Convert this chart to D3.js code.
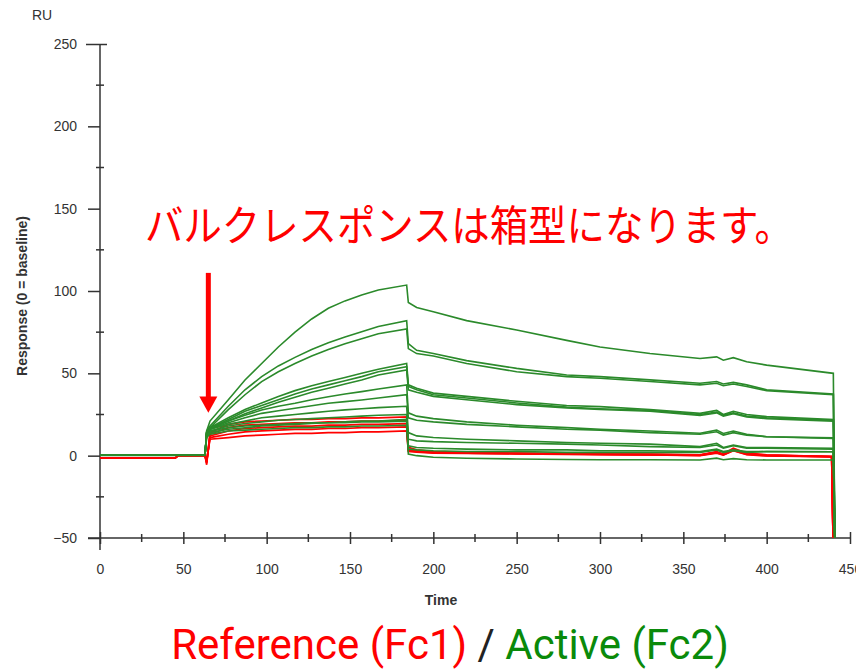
<!DOCTYPE html>
<html>
<head>
<meta charset="utf-8">
<script src="https://cdnjs.cloudflare.com/ajax/libs/d3/7.8.5/d3.min.js"></script>
<style>
body { margin: 0; background: #fff; }
</style>
</head>
<body>
<script>
// time points (s) for the active channel (Fc2) and reference channel (Fc1)
var timeAct = [0, 63, 64, 66, 77, 87, 97, 107, 117, 127, 137, 147, 157, 167, 184, 185, 190, 200, 220, 250, 280, 300, 330, 360, 370, 374, 380, 388, 400, 440, 441];
var timeRef = [0, 45, 47, 63, 64, 66, 77, 87, 97, 107, 117, 127, 137, 147, 157, 167, 184, 185, 190, 200, 220, 250, 280, 300, 330, 360, 370, 374, 380, 388, 400, 439, 440];

// Active (Fc2) sensorgrams, RU
var active1  = [0.5, 0.5, 15, 21, 34, 46, 56, 66, 75, 83, 89.5, 94, 97.6, 100.6, 103.6, 93, 90, 87.4, 82, 76.3, 70, 66, 62, 59, 60, 58, 59.5, 57, 55, 50, -60];
var active2  = [0.5, 0.5, 15, 18, 30, 40, 48, 54.5, 59.7, 64.5, 68.6, 72, 75.3, 78.5, 82, 68, 64, 62, 57.7, 53, 49, 48, 46, 44, 45, 43.5, 44.5, 43, 40, 37.5, -60];
var active3  = [0.5, 0.5, 14, 17, 28, 37, 45, 51, 56, 60.5, 64.5, 68, 71, 74, 77, 65, 62, 60.5, 56, 51, 48, 47, 45, 43, 44, 42.5, 43.5, 42, 39.5, 37, -60];
var active4  = [0.3, 0.3, 14, 17, 23, 28, 32, 36, 39.5, 42.5, 45, 47.5, 50, 52.5, 56, 43, 41, 38, 36, 33, 30.5, 29.8, 28, 25.7, 27.5, 25, 27, 25, 23.7, 22, -60];
var active5  = [0.3, 0.3, 14, 16.5, 22, 27, 30.5, 34, 37.5, 40.5, 43, 45.5, 48, 51, 54, 42, 40, 37, 35, 32, 29.5, 28.5, 27.5, 25, 26.5, 24.5, 26, 24, 23, 21.5, -60];
var active6  = [0.2, 0.2, 13.5, 16, 21, 25.5, 29, 32.5, 35.5, 38.5, 41, 43.5, 46, 49, 52, 40, 38.5, 36, 34, 31, 29, 28, 27, 24.5, 26, 24, 25.5, 23.5, 22.5, 21, -60];
var active7  = [0.3, 0.3, 14, 16.5, 21, 24.5, 27.7, 30, 31.8, 34, 35.8, 37.5, 38.9, 40.5, 43, 26, 24, 22.5, 20.5, 18.5, 17, 16, 15, 13.6, 15.5, 13.5, 15, 13, 11.5, 10.8, -60];
var active8  = [0.3, 0.3, 13.5, 16, 20, 23, 25.7, 27.3, 28.8, 30.3, 31.8, 32.8, 33.8, 35, 37, 23, 21.5, 20.5, 19, 17.5, 16, 15.5, 14, 13, 14.5, 12.5, 14, 12.5, 11.5, 10.5, -60];
var active9  = [0.5, 0.5, 14, 16, 19, 21, 23, 24, 25, 26, 27, 27.8, 28.5, 29.2, 30, 14, 12, 11, 10, 9, 8, 7.5, 7, 5.5, 7.5, 5, 6.5, 5, 5, 4.5, -60];
var active10 = [0.4, 0.4, 13, 15, 18, 19.5, 20.5, 21.5, 22, 22.5, 23, 23.5, 24, 24.5, 25, 10, 9, 8.5, 8, 7.5, 7, 6.5, 5.5, 5, 6.5, 4.5, 6, 4.5, 4.5, 4, -60];
var active11 = [0.4, 0.4, 13, 15, 17, 18, 18.5, 19, 19.5, 20, 20, 20.5, 21, 21, 22, 6, 5, 4.5, 4, 3.5, 3.5, 3, 3, 2.5, 4, 2.5, 3.5, 2.5, 2.5, 2.4, -60];
var active12 = [0.5, 0.5, 12, 14, 16, 17, 18, 18.5, 19, 19.5, 20, 20, 20.5, 20.5, 21, 4, 3.5, 3, 2.5, 2.5, 2, 2, 2, 2, 3.5, 2, 3, 2, 2.5, 2.4, -60];
var active13 = [0.3, 0.3, 11, 13, 15, 15.5, 16, 16.5, 17, 17, 17.5, 17.5, 18, 18, 18.5, 1, 0, -1, -1.6, -2, -2.3, -2.5, -2.5, -2.6, -1.5, -2.5, -1.8, -2.5, -2.6, -2.6, -60];

// Reference (Fc1) sensorgrams, RU
var ref1 = [-1.5, -1.5, 0, 0, -5.5, 14, 19, 20.5, 21, 21.5, 22, 22, 22.5, 22.5, 23, 23, 23.5, 5, 3.5, 2.5, 2, 1.5, 1.2, 1, 0.9, 0.5, 2.5, 1, 4.5, 1.5, 0.5, -0.5, -60];
var ref2 = [-1.5, -1.5, 0, 0, -4.5, 13, 17, 18.5, 19, 19.5, 20, 20, 20.5, 20.5, 21, 21, 21.5, 4, 3, 2.2, 1.8, 1.4, 1.1, 0.9, 0.8, 0.4, 2, 0.8, 4, 1.2, 0.3, -0.5, -60];
var ref3 = [-1.5, -1.5, 0, 0, -4, 12, 15, 16.5, 17, 17.5, 18, 18, 18.5, 18.5, 19, 19, 19.5, 3.5, 2.8, 2, 1.6, 1.3, 1, 0.8, 0.6, 0.3, 2.2, 0.6, 3.5, 1, 0.2, -0.6, -60];
var ref4 = [-1.5, -1.5, 0, 0, -3.5, 11, 13, 14.5, 15, 15.5, 16, 16, 16.5, 16.5, 17, 17, 17.5, 3, 2.5, 1.8, 1.5, 1.2, 0.9, 0.7, 0.5, 0.2, 1.8, 0.5, 3.2, 0.8, 0, -0.6, -60];
var ref5 = [-1.5, -1.5, 0, 0, -3, 10, 11, 12, 12.5, 13, 13.5, 13.5, 14, 14, 14.5, 14.5, 15, 2.5, 2.2, 1.6, 1.4, 1.1, 0.8, 0.6, 0.4, 0, 1.5, 0.4, 3, 0.6, -0.2, -0.7, -60];

var activeSeries = [active1, active2, active3, active4, active5, active6, active7, active8, active9, active10, active11, active12, active13];
var refSeries = [ref1, ref2, ref3, ref4, ref5];

var xTicks = [0, 50, 100, 150, 200, 250, 300, 350, 400, 450];
var xMinor = [25, 75, 125, 175, 225, 275, 325, 375, 425];
var yTicks = [-50, 0, 50, 100, 150, 200, 250];
var yMinor = [-25, 25, 75, 125, 175, 225];

var note = "バルクレスポンスは箱型になります。";

draw_chart();

function draw_chart(){
    var width = 856;
    var height = 671;
    var axisColor = "#333";
    var green = "#2b8a2b";
    var red = "#ff0000";

    var x = d3.scaleLinear().domain([0, 450]).range([100, 850]);
    var y = d3.scaleLinear().domain([-50, 250]).range([538, 44]);

    var svg = d3.select("body")
        .append("svg")
        .attr("width", width)
        .attr("height", height)
        .style("font-family", "'Liberation Sans', Arial, sans-serif");

    svg.append("defs").append("clipPath")
        .attr("id", "plot")
        .append("rect")
        .attr("x", x(0))
        .attr("y", y(250))
        .attr("width", x(450) - x(0))
        .attr("height", y(-50) - y(250));

    // y axis
    var yAxis = d3.axisLeft(y)
        .tickValues(yTicks)
        .tickSize(12)
        .tickSizeOuter(0)
        .tickPadding(11);
    var gy = svg.append("g")
        .attr("transform", "translate(" + x(0) + ",0)")
        .call(yAxis);
    gy.select(".domain").remove();
    gy.selectAll("line").attr("stroke", axisColor).attr("stroke-width", 1.5);
    gy.selectAll("text").attr("fill", axisColor).style("font-size", "14px");
    gy.selectAll(".tick").filter(function(d){ return d === 250; })
        .select("line").attr("x2", 7).attr("x1", -14);

    svg.append("g").selectAll("line")
        .data(yMinor)
        .enter().append("line")
        .attr("x1", x(0) - 4).attr("x2", x(0) + 4)
        .attr("y1", function(d){ return y(d); })
        .attr("y2", function(d){ return y(d); })
        .attr("stroke", axisColor).attr("stroke-width", 1.5);

    svg.append("line")
        .attr("x1", x(0)).attr("x2", x(0))
        .attr("y1", y(250)).attr("y2", y(-50) + 12)
        .attr("stroke", axisColor).attr("stroke-width", 1.5);

    // x axis
    var xAxis = d3.axisBottom(x)
        .tickValues(xTicks)
        .tickSize(6)
        .tickSizeOuter(0);
    var gx = svg.append("g")
        .attr("transform", "translate(0," + y(-50) + ")")
        .call(xAxis);
    gx.select(".domain").remove();
    gx.selectAll("line").attr("y1", -6).attr("y2", 6)
        .attr("stroke", axisColor).attr("stroke-width", 1.5);
    gx.selectAll("text").attr("y", 26).attr("fill", axisColor).style("font-size", "14px");

    svg.append("g").selectAll("line")
        .data(xMinor)
        .enter().append("line")
        .attr("x1", function(d){ return x(d); })
        .attr("x2", function(d){ return x(d); })
        .attr("y1", y(-50) - 4).attr("y2", y(-50) + 4)
        .attr("stroke", axisColor).attr("stroke-width", 1.5);

    svg.append("line")
        .attr("x1", x(0) - 12).attr("x2", x(450))
        .attr("y1", y(-50)).attr("y2", y(-50))
        .attr("stroke", axisColor).attr("stroke-width", 1.5);

    // axis titles
    svg.append("text")
        .attr("x", 32).attr("y", 20)
        .attr("fill", axisColor)
        .style("font-size", "14px")
        .text("RU");

    svg.append("text")
        .attr("transform", "translate(27,296) rotate(-90)")
        .attr("text-anchor", "middle")
        .attr("fill", axisColor)
        .style("font-size", "14px")
        .style("font-weight", "bold")
        .text("Response (0 = baseline)");

    svg.append("text")
        .attr("x", 441).attr("y", 605)
        .attr("text-anchor", "middle")
        .attr("fill", axisColor)
        .style("font-size", "14px")
        .style("font-weight", "bold")
        .text("Time");

    // sensorgrams
    var line = d3.line()
        .x(function(d){ return x(d[0]); })
        .y(function(d){ return y(d[1]); });

    var plot = svg.append("g").attr("clip-path", "url(#plot)");

    plot.selectAll("path.ref")
        .data(refSeries)
        .enter().append("path")
        .attr("class", "ref")
        .attr("d", function(d){ return line(d3.zip(timeRef, d)); })
        .attr("fill", "none")
        .attr("stroke", red)
        .attr("stroke-width", 1.7);

    plot.selectAll("path.act")
        .data(activeSeries)
        .enter().append("path")
        .attr("class", "act")
        .attr("d", function(d){ return line(d3.zip(timeAct, d)); })
        .attr("fill", "none")
        .attr("stroke", green)
        .attr("stroke-width", 1.6);

    // annotation
    svg.append("line")
        .attr("x1", x(65)).attr("x2", x(65))
        .attr("y1", y(111)).attr("y2", y(35))
        .attr("stroke", red).attr("stroke-width", 5);
    svg.append("path")
        .attr("d", "M" + (x(65) - 9) + "," + y(36) + "L" + (x(65) + 9) + "," + y(36) + "L" + x(65) + "," + y(26) + "Z")
        .attr("fill", red);

    svg.append("text")
        .attr("x", 145).attr("y", 241)
        .attr("textLength", 648)
        .attr("lengthAdjust", "spacingAndGlyphs")
        .attr("fill", red)
        .style("font-family", "'Noto Sans CJK JP', sans-serif")
        .style("font-size", "42px")
        .text(note);

    var legend = svg.append("text")
        .attr("x", 450).attr("y", 659)
        .attr("text-anchor", "middle")
        .style("font-family", "Roboto, sans-serif")
        .style("font-size", "42px");
    legend.append("tspan").attr("fill", red).text("Reference (Fc1)");
    legend.append("tspan").attr("fill", "#222").text(" / ");
    legend.append("tspan").attr("fill", "#0a8a0a").text("Active (Fc2)");
}
</script>
</body>
</html>
